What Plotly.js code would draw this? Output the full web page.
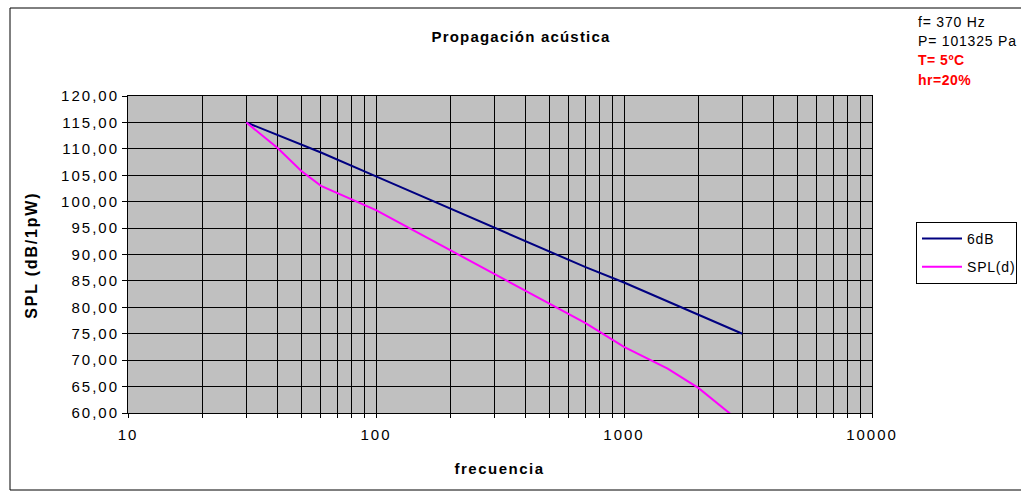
<!DOCTYPE html>
<html>
<head>
<meta charset="utf-8">
<script src="https://cdn.plot.ly/plotly-3.0.1.min.js"></script>
<style>
  html, body { margin: 0; padding: 0; background: #fff; }
  #chart { width: 1021px; height: 497px; }
  #chart .xtick text, #chart .ytick text { letter-spacing: 2px; }
  #chart .gtitle { letter-spacing: 1.2px; }
  #chart .annotation[data-index="0"] text { letter-spacing: 1.8px; }
  #chart .annotation[data-index="1"] text { letter-spacing: 1.5px; }
  #chart .annotation[data-index="2"] text,
  #chart .annotation[data-index="3"] text { letter-spacing: 0.8px; }
  #chart .annotation[data-index="4"] text,
  #chart .annotation[data-index="5"] text { letter-spacing: 0.5px; }
  #chart .legendtext { letter-spacing: 0.8px; }
</style>
</head>
<body>
<div id="chart"></div>
<script>
// ---- data ----
var freq6dB = [30, 60, 100, 200, 300, 500, 700, 1000, 1500, 2000, 3000];
var spl6dB  = [115, 109.3, 104.8, 98.7, 95.1, 90.6, 87.6, 84.7, 81.1, 78.7, 75];

var freqSPL = [30, 40, 50, 60, 100, 200, 300, 500, 700, 1000, 1500, 2000, 3000];
var splSPL  = [115, 110.2, 105.8, 103, 98.4, 90.8, 86.4, 80.8, 77, 72.5, 68.4, 64.7, 58];

var yTickVals = [60, 65, 70, 75, 80, 85, 90, 95, 100, 105, 110, 115, 120];
var xDecades = [10, 100, 1000, 10000];
var xDecadeLabels = ['10', '100', '1000', '10000'];
var infoLines = ['f= 370 Hz', 'P= 101325 Pa', 'T= 5ºC', 'hr=20%'];
var infoColors = ['#000000', '#000000', '#ff0000', '#ff0000'];

// ---- build log grid tick list (1..9 per decade) ----
var xTickVals = [], xTickText = [];
for (var d = 0; d < xDecades.length; d++) {
  for (var m = 1; m <= 9; m++) {
    if (d === xDecades.length - 1 && m > 1) break;
    xTickVals.push(xDecades[d] * m);
    xTickText.push(m === 1 ? xDecadeLabels[d] : '');
  }
}

var FONT = 'Liberation Sans, Arial, sans-serif';
var L = 128, R = 872, T = 96, B = 413, W = 1021, H = 497;
var pw = R - L, ph = B - T;
function px(x) { return (x - L) / pw; }
function py(y) { return (B - y) / ph; }

var traces = [
  { x: freq6dB, y: spl6dB, name: '6dB', mode: 'lines', type: 'scatter', legendgroup: 'a',
    line: { color: '#000080', width: 2 } },
  { x: freqSPL, y: splSPL, name: 'SPL(d)', mode: 'lines', type: 'scatter', legendgroup: 'b',
    line: { color: '#ff00ff', width: 2 } }
];

var annotations = [
  { text: '<b>SPL (dB/1pW)</b>', xref: 'paper', yref: 'paper', x: px(31), y: py(256),
    textangle: -90, showarrow: false, font: { family: FONT, size: 16, color: '#000' },
    xanchor: 'center', yanchor: 'middle' },
  { text: '<b>frecuencia</b>', xref: 'paper', yref: 'paper', x: px(500), y: py(468),
    showarrow: false, font: { family: FONT, size: 15, color: '#000' },
    xanchor: 'center', yanchor: 'middle' }
];
var infoY = [22, 41, 60, 80];
for (var i = 0; i < infoLines.length; i++) {
  annotations.push({
    text: i >= 2 ? '<b>' + infoLines[i] + '</b>' : infoLines[i],
    xref: 'paper', yref: 'paper', x: px(916), y: py(infoY[i]),
    showarrow: false, xanchor: 'left', yanchor: 'middle', align: 'left',
    font: { family: FONT, size: 14, color: infoColors[i] }
  });
}

var layout = {
  width: W, height: H,
  margin: { l: L, r: W - R, t: T, b: H - B, pad: 0, autoexpand: false },
  paper_bgcolor: '#ffffff',
  plot_bgcolor: '#c0c0c0',
  separators: ',.',
  showlegend: true,
  title: { text: '<b>Propagación acústica</b>', xref: 'paper', x: px(521), xanchor: 'center',
           yref: 'container', y: 1 - 37 / H, yanchor: 'middle',
           font: { family: FONT, size: 15, color: '#000' } },
  xaxis: {
    type: 'log', range: [1, 4],
    tickmode: 'array', tickvals: xTickVals, ticktext: xTickText,
    showgrid: true, gridcolor: '#000000', gridwidth: 1,
    ticks: 'outside', ticklen: 4, tickcolor: '#000', ticklabelstandoff: 4,
    showline: true, linecolor: '#000', linewidth: 1, mirror: true,
    zeroline: false, automargin: false,
    tickfont: { family: FONT, size: 15, color: '#000' }
  },
  yaxis: {
    range: [60, 120], tickmode: 'array', tickvals: yTickVals, tickformat: '.2f',
    showgrid: true, gridcolor: '#000000', gridwidth: 1,
    ticks: 'outside', ticklen: 5, tickcolor: '#000',
    showline: true, linecolor: '#000', linewidth: 1, mirror: true,
    zeroline: false, automargin: false,
    tickfont: { family: FONT, size: 15, color: '#000' }
  },
  legend: {
    x: px(916), y: py(222), xanchor: 'left', yanchor: 'top',
    bgcolor: '#ffffff', bordercolor: '#000000', borderwidth: 1,
    font: { family: FONT, size: 14, color: '#000' },
    itemwidth: 40, traceorder: 'grouped', tracegroupgap: 7
  },
  annotations: annotations,
  shapes: [
    { type: 'rect', xref: 'paper', yref: 'paper',
      x0: px(10), x1: px(1030), y0: py(490), y1: py(8),
      line: { color: '#000', width: 1 }, fillcolor: 'rgba(0,0,0,0)', layer: 'below' }
  ]
};

Plotly.newPlot('chart', traces, layout, { displayModeBar: false, staticPlot: true });
</script>
</body>
</html>
